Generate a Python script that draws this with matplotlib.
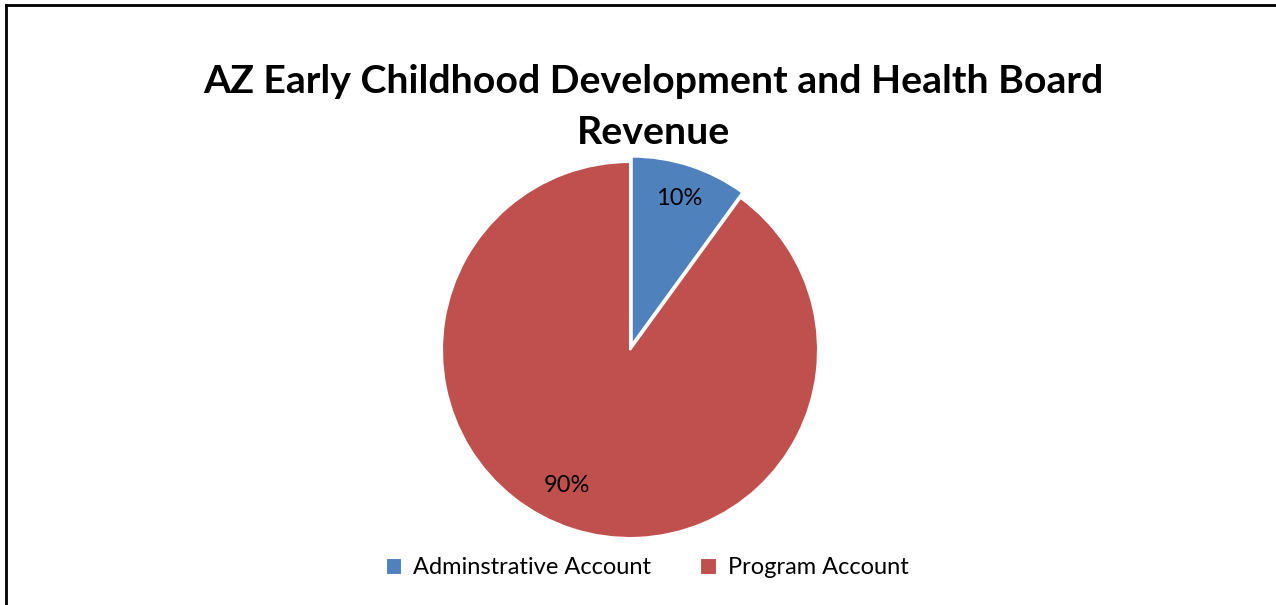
import matplotlib.pyplot as plt
from matplotlib.lines import Line2D

labels = ['Adminstrative Account', 'Program Account']
values = [10, 90]
colors = ['#4F81BD', '#C0504D']
title = 'AZ Early Childhood Development and Health Board\nRevenue'

plt.rcParams['font.family'] = ['Lato', 'DejaVu Sans']

W, H = 1276, 605
fig = plt.figure(figsize=(W / 100, H / 100), dpi=100)

# pie axes, placed in pixels (centre 630,350 ; radius 188)
cx, cy, r = 630, 350, 188
ax = fig.add_axes([(cx - r) / W, 1 - (cy + r) / H, 2 * r / W, 2 * r / H])
wedges, texts, autotexts = ax.pie(
    values, colors=colors, startangle=90, counterclock=False,
    explode=[0.03, 0], autopct='%1.0f%%', pctdistance=0.82,
    wedgeprops=dict(edgecolor='white', linewidth=1.5),
    textprops=dict(fontsize=17, color='black'))
# Excel puts the big slice's label a bit further round
autotexts[1].set_position((-0.335, -0.723))
ax.set_xlim(-1, 1)
ax.set_ylim(-1, 1)
ax.set_aspect('equal')

fig.text(653 / W, 1 - 107 / H, title, ha='center', va='center',
         fontsize=28.3, fontweight='bold', linespacing=1.55)

fig.legend(wedges, labels, loc='center', bbox_to_anchor=(647 / W, 1 - 568 / H),
           ncol=2, frameon=False, fontsize=17, handlelength=0.7, handleheight=0.7,
           columnspacing=2.1, handletextpad=0.45)

# chart border (top and left visible)
fig.add_artist(Line2D([6 / W, 6 / W], [0, 1 - 5 / H], transform=fig.transFigure,
                      color='black', linewidth=2))
fig.add_artist(Line2D([6 / W, 1], [1 - 5 / H, 1 - 5 / H], transform=fig.transFigure,
                      color='black', linewidth=2))

fig.savefig('out.png', dpi=100)
